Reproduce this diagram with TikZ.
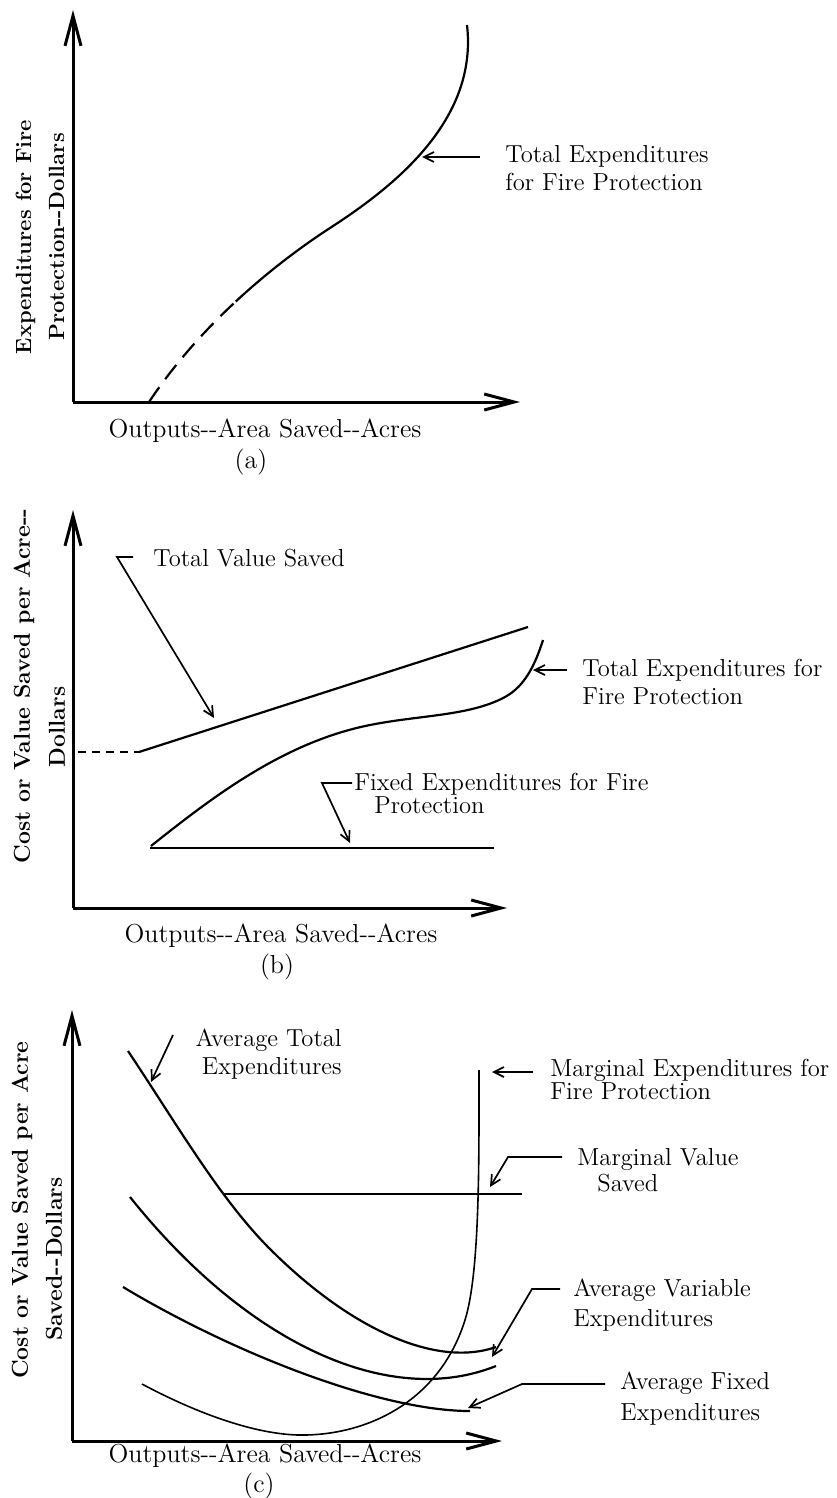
\documentclass[tikz,border=0pt]{standalone}
\usetikzlibrary{arrows.meta}
\tikzset{
  axisline/.style={line width=1.5pt,-{Straight Barb[length=15pt,width=8pt]}},
  costcurve/.style={line width=1.1pt},
  thincurve/.style={line width=0.8pt},
  pointer/.style={line width=0.85pt,-{Straight Barb[length=5pt,width=5pt]}},
  curvelabel/.style={font=\fontsize{12.3}{14}\selectfont,inner sep=0pt},
  axislabel/.style={font=\fontsize{13}{15}\selectfont,inner sep=0pt},
  ylabel/.style={font=\fontsize{11.5}{16.5}\selectfont\bfseries,inner sep=0pt,rotate=90},
}
\begin{document}
\begin{tikzpicture}[x=0.5pt,y=0.5pt,yscale=-1,xscale=1]
\useasboundingbox (0,0) rectangle (836,1498);

%%%%%%%% panel (a)
\coordinate (Oa) at (73,402);
\coordinate (Ya) at (73,10);
\coordinate (Xa) at (520,402);
%Axes
\draw [axisline] (Oa) -- (Ya);
\draw [axisline] (Oa) -- (Xa);
%Total expenditures, dashed start
\draw [costcurve,dash pattern=on 9pt off 5pt] (149,402) .. controls (174,364.5) and (204.25,330.75) .. (235.75,301.5);
\draw [costcurve] (235.75,301.5) .. controls (267.25,272.25) and (300,247.5) .. (330,228) .. controls (395,186) and (478,120) .. (467,25);

% Text Node
\draw (505,168) node [curvelabel,anchor=west,align=left] (tea) {Total Expenditures\\for Fire Protection};
\coordinate (tea-in) at (480,157);
\coordinate (tea-on) at (422,157);
\draw [pointer] (tea-in) -- (tea-on);
% Text Node
\draw (40,237) node [ylabel,align=center,font=\fontsize{11}{16.5}\selectfont\bfseries] (ya) {Expenditures for Fire\\Protection-{}-Dollars};
% Text Node
\draw (265,431) node [axislabel] (xa) {Outputs-{}-Area Saved-{}-Acres};
\draw (251,462) node [axislabel] (capa) {(a)};

%%%%%%%% panel (b)
\coordinate (Ob) at (73,908);
\coordinate (Yb) at (73,510);
\coordinate (Xb) at (507,908);
%Axes
\draw [axisline] (Ob) -- (Yb);
\draw [axisline] (Ob) -- (Xb);
%Total value saved
\draw [costcurve,dash pattern=on 4pt off 3pt] (78,752) -- (139,752);
\draw [costcurve] (139,752) -- (528,627);
%Total expenditures
\draw [costcurve] (151,846) .. controls (215,795) and (285,742) .. (370,725) .. controls (420,715) and (470,716) .. (505,697) .. controls (525,686) and (535,665) .. (543,640);
%Fixed expenditures
\draw [costcurve] (150,848) -- (494,848);

% Text Node
\draw (153,558) node [curvelabel,anchor=west] (tvs) {Total Value Saved};
\coordinate (tvs-a) at (133,557);
\coordinate (tvs-b) at (117,557);
\coordinate (tvs-on) at (214,718);
\draw [pointer] (tvs-a) -- (tvs-b) -- (tvs-on);
% Text Node
\draw (582,682) node [curvelabel,anchor=west,align=left] (teb) {Total Expenditures for\\Fire Protection};
\coordinate (teb-in) at (567,670);
\coordinate (teb-on) at (533,670);
\draw [pointer] (teb-in) -- (teb-on);
% Text Node
\draw (354,793) node [curvelabel,anchor=west,align=left,font=\fontsize{12.3}{11.5}\selectfont] (feb) {Fixed Expenditures for Fire\\\hspace*{10pt}Protection};
\coordinate (feb-a) at (352,783);
\coordinate (feb-b) at (322,783);
\coordinate (feb-on) at (350,843);
\draw [pointer] (feb-a) -- (feb-b) -- (feb-on);
% Text Node
\draw (24,686) node [ylabel] (yb1) {Cost or Value Saved per Acre-{}-};
\draw (57,727) node [ylabel] (yb2) {Dollars};
% Text Node
\draw (281,936) node [axislabel] (xb) {Outputs-{}-Area Saved-{}-Acres};
\draw (277,967) node [axislabel] (capb) {(b)};

%%%%%%%% panel (c)
\coordinate (Oc) at (72,1441);
\coordinate (Yc) at (72,1010);
\coordinate (Xc) at (502,1441);
%Axes
\draw [axisline] (Oc) -- (Yc);
\draw [axisline] (Oc) -- (Xc);
%Average total
\draw [costcurve] (128,1051) .. controls (178,1126) and (220,1199) .. (270,1249) .. controls (350,1329) and (436,1368) .. (496,1347);
%Average variable
\draw [costcurve] (130,1197) .. controls (250,1347) and (391,1408) .. (496,1366);
%Average fixed
\draw [costcurve] (123,1287) .. controls (233,1353) and (380,1411) .. (470,1411);
%Marginal expenditures
\draw [thincurve] (142,1384) .. controls (200,1415) and (260,1436) .. (305,1435) .. controls (370,1434) and (440,1400) .. (465,1320) .. controls (480,1272) and (479,1160) .. (479,1070);
%Marginal value
\draw [thincurve] (224,1194) -- (522,1194);

% Text Node
\draw (342,1054) node [curvelabel,anchor=east,align=right] (atc) {Average Total\\Expenditures};
\coordinate (atc-in) at (173,1035);
\coordinate (atc-on) at (151,1082);
\draw [pointer] (atc-in) -- (atc-on);
% Text Node
\draw (550,1079) node [curvelabel,anchor=west,align=left,font=\fontsize{12.3}{11.5}\selectfont] (mec) {Marginal Expenditures for\\Fire Protection};
\coordinate (mec-in) at (533,1072);
\coordinate (mec-on) at (492,1072);
\draw [pointer] (mec-in) -- (mec-on);
% Text Node
\draw (577,1170) node [curvelabel,anchor=west,align=left,font=\fontsize{12.3}{13}\selectfont] (mvs) {Marginal Value\\\hspace*{10pt}Saved};
\coordinate (mvs-a) at (562,1157);
\coordinate (mvs-b) at (508,1157);
\coordinate (mvs-on) at (490,1187);
\draw [pointer] (mvs-a) -- (mvs-b) -- (mvs-on);
% Text Node
\draw (573,1305) node [curvelabel,anchor=west,align=left,font=\fontsize{12.3}{15}\selectfont] (avc) {Average Variable\\Expenditures};
\coordinate (avc-a) at (560,1289);
\coordinate (avc-b) at (532,1289);
\coordinate (avc-on) at (492,1357);
\draw [pointer] (avc-a) -- (avc-b) -- (avc-on);
% Text Node
\draw (620,1399) node [curvelabel,anchor=west,align=left,font=\fontsize{12.3}{15.5}\selectfont] (afc) {Average Fixed\\Expenditures};
\coordinate (afc-a) at (605,1384);
\coordinate (afc-b) at (522,1384);
\coordinate (afc-on) at (468,1408);
\draw [pointer] (afc-a) -- (afc-b) -- (afc-on);
% Text Node
\draw (22,1210) node [ylabel] (yc1) {Cost or Value Saved per Acre};
\draw (54,1259) node [ylabel] (yc2) {Saved-{}-Dollars};
% Text Node
\draw (265,1456) node [axislabel] (xc) {Outputs-{}-Area Saved-{}-Acres};
\draw (259,1486) node [axislabel] (capc) {(c)};

\end{tikzpicture}
\end{document}
